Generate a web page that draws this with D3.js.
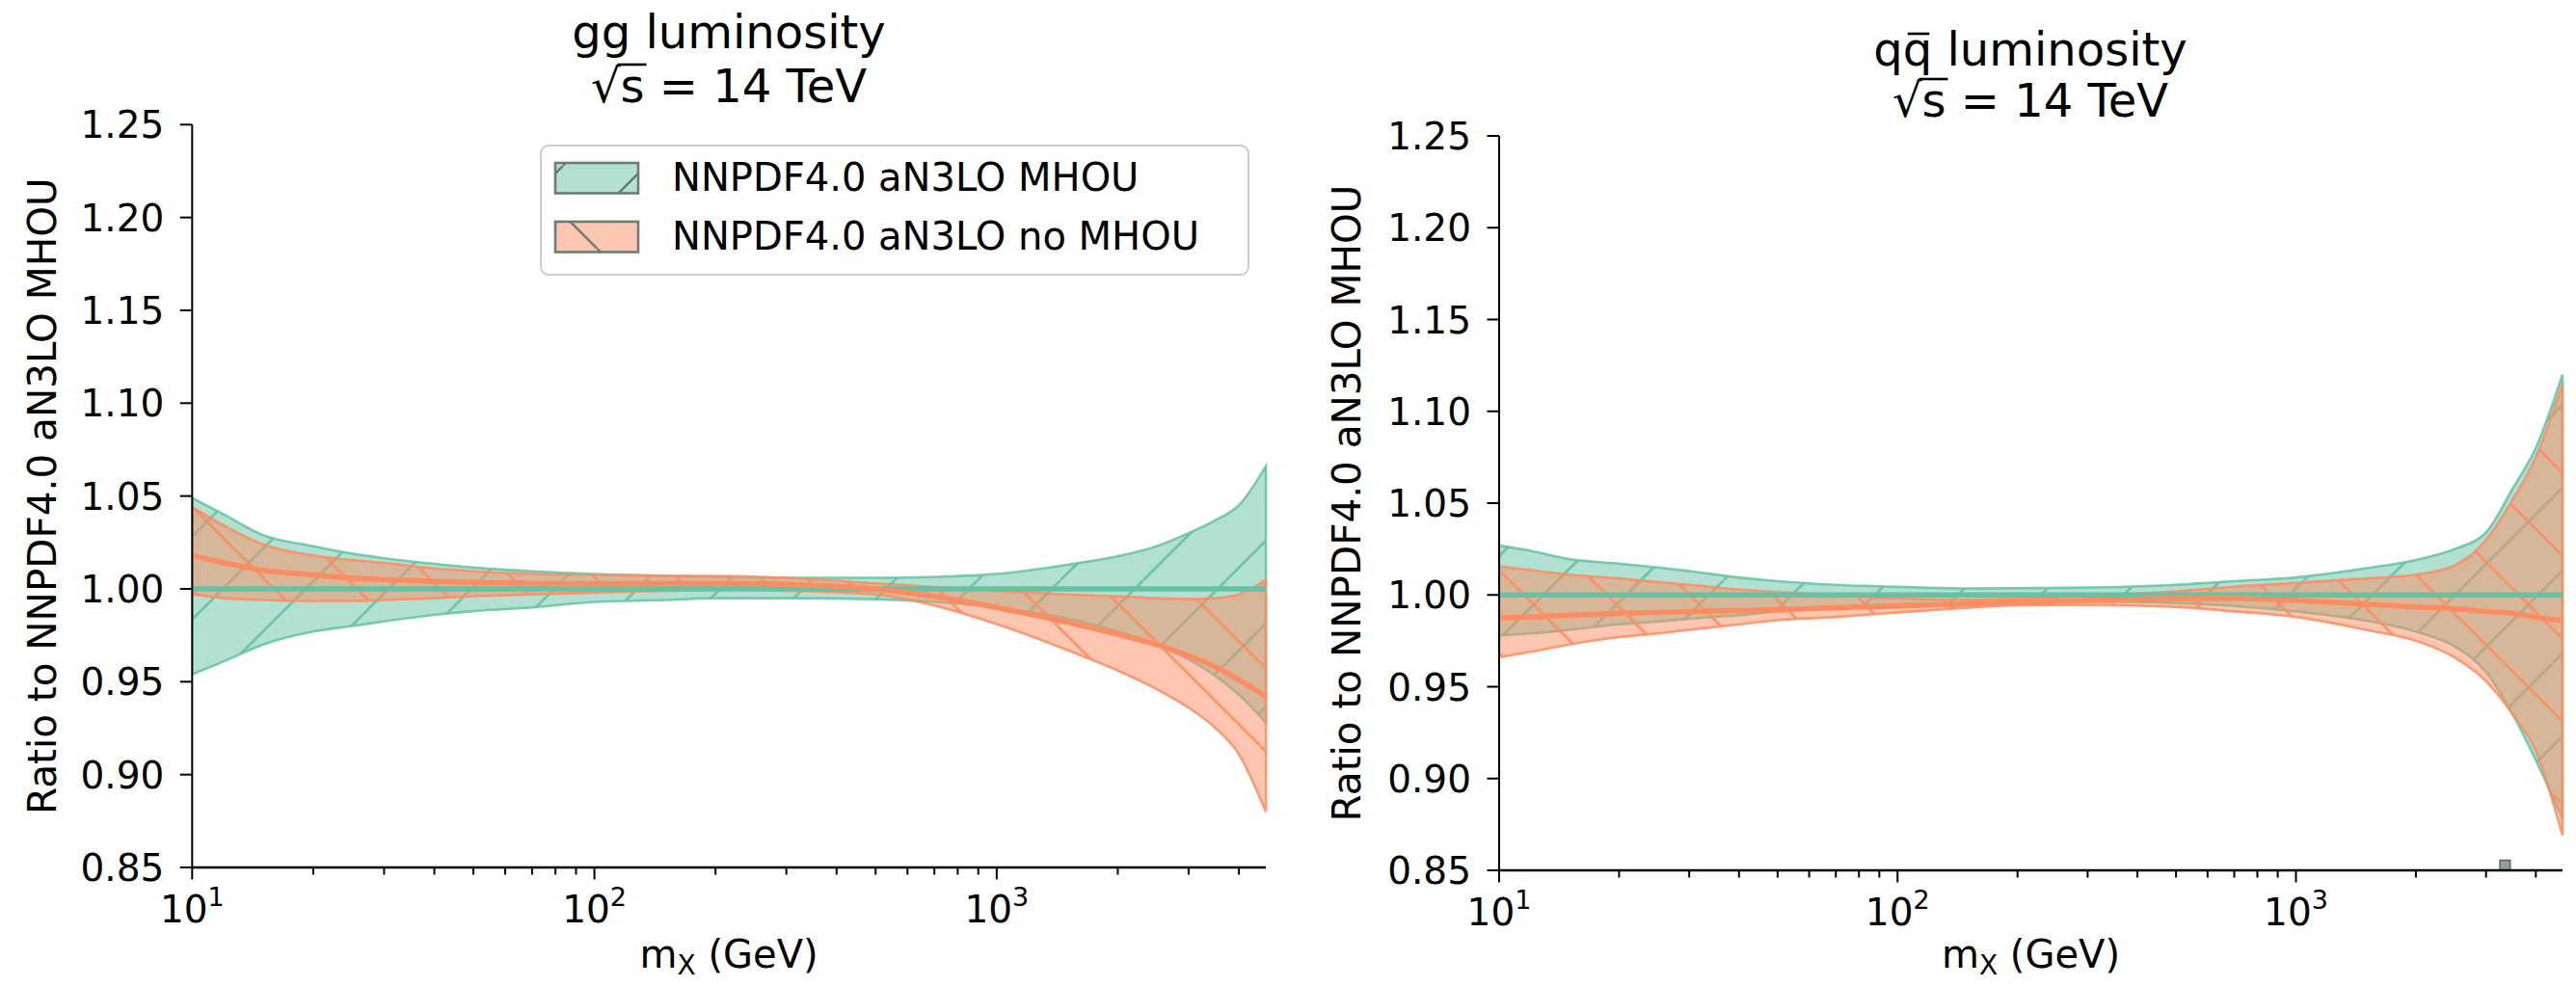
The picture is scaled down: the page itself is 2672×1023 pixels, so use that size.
<!DOCTYPE html>
<html><head><meta charset="utf-8">
<script src="https://cdn.jsdelivr.net/npm/d3@7"></script>
<style>
body{margin:0;background:#fff}
svg{display:block}
text{font-family:"DejaVu Sans",sans-serif;fill:#000}
</style>
</head><body>
<svg id="c" width="2672" height="1023"></svg>
<script>
// ---------------- data ----------------
const massGeV = [10,12,15,20,25,30,40,50,70,100,150,200,300,500,700,1000,1500,2000,2500,3000,3500,4000,4667];

// gg luminosity
const ggMhouUpper   = [1.049,1.040,1.029,1.023,1.019,1.0165,1.0135,1.0115,1.0095,1.008,1.007,1.0065,1.006,1.006,1.0065,1.008,1.013,1.0176,1.023,1.030,1.037,1.045,1.066];
const ggMhouLower   = [0.954,0.961,0.970,0.977,0.980,0.9825,0.986,0.988,0.990,0.993,0.994,0.995,0.995,0.9945,0.993,0.990,0.984,0.977,0.970,0.962,0.953,0.943,0.928];
const ggMhouCentral = [1,1,1,1,1,1,1,1,1,1,1,1,1,1,1,1,1,1,1,1,1,1,1];
const ggNoUpper     = [1.044,1.034,1.024,1.018,1.0155,1.014,1.011,1.0095,1.008,1.0075,1.007,1.007,1.006,1.003,1.001,0.999,0.997,0.996,0.995,0.9945,0.995,0.997,1.005];
const ggNoLower     = [0.997,0.995,0.994,0.9935,0.9935,0.994,0.995,0.996,0.997,0.998,0.999,0.9995,0.999,0.997,0.991,0.981,0.967,0.956,0.946,0.936,0.925,0.911,0.880];
const ggNoCentral   = [1.018,1.014,1.010,1.0075,1.0058,1.005,1.004,1.0035,1.003,1.0027,1.003,1.003,1.0025,1.000,0.996,0.990,0.982,0.9755,0.970,0.964,0.958,0.951,0.942];

// q qbar luminosity
const qqMhouUpper   = [1.027,1.024,1.0195,1.017,1.015,1.013,1.0095,1.0075,1.0055,1.0044,1.0035,1.0037,1.004,1.0055,1.0075,1.0095,1.0145,1.019,1.025,1.034,1.058,1.080,1.120];
const qqMhouLower   = [0.978,0.979,0.981,0.984,0.9855,0.987,0.989,0.991,0.993,0.995,0.996,0.9965,0.9965,0.9955,0.994,0.991,0.986,0.980,0.972,0.958,0.935,0.910,0.878];
const qqMhouCentral = [1,1,1,1,1,1,1,1,1,1,1,1,1,1,1,1,1,1,1,1,1,1,1];
const qqNoUpper     = [1.0155,1.0135,1.011,1.009,1.007,1.0055,1.003,1.0015,1.000,0.998,0.9975,0.998,0.9995,1.002,1.0045,1.0065,1.009,1.011,1.016,1.030,1.052,1.075,1.115];
const qqNoLower     = [0.966,0.969,0.973,0.977,0.979,0.981,0.984,0.9862,0.988,0.9905,0.993,0.9944,0.9945,0.9935,0.991,0.988,0.981,0.975,0.966,0.953,0.935,0.915,0.869];
const qqNoCentral   = [0.9875,0.988,0.989,0.990,0.9905,0.991,0.9915,0.992,0.993,0.994,0.995,0.996,0.997,0.998,0.998,0.997,0.995,0.9935,0.9925,0.991,0.990,0.988,0.986];

// small grey mark seen near the bottom of the right panel
const qqMarkX = [3250, 3450];
const qqMarkY = [0.85, 0.8555];

const yTickValues = [0.85,0.90,0.95,1.00,1.05,1.10,1.15,1.20,1.25];
const xMajorTicks = [10,100,1000];
const xMajorExp   = ["1","2","3"];
const xMinorTicks = [20,30,40,50,60,70,80,90,200,300,400,500,600,700,800,900,2000,3000,4000];
const xDomain = [10, 14000/3];
const yDomain = [0.85, 1.25];

const seriesLabels = ["NNPDF4.0 aN3LO MHOU","NNPDF4.0 aN3LO no MHOU"];
const panelTitles  = ["gg luminosity","qq luminosity"];
const titleLine2   = "√s = 14 TeV";
const yLabel = "Ratio to NNPDF4.0 aN3LO MHOU";

// ---------------- drawing ----------------
const GREEN = "#66c2a5", ORANGE = "#fc8d62";
const svg = d3.select("#c");
const defs = svg.append("defs");
const P = 86;
function hatch(id, dir, color, phase, sw){
  const p = defs.append("pattern").attr("id", id).attr("patternUnits","userSpaceOnUse")
    .attr("width", P).attr("height", P).attr("x", phase).attr("y", 0);
  const d = dir === "/" ?
    `M${-P},${P}L0,0M0,${P}L${P},0M${P},${P}L${2*P},0` :
    `M${-P},0L0,${P}M0,0L${P},${P}M${P},0L${2*P},${P}`;
  p.append("path").attr("d", d).attr("stroke", color).attr("stroke-width", sw).attr("fill","none");
}
hatch("hG", "/", GREEN, 68, 2.8);
hatch("hO", "\\", ORANGE, 17.5, 2.8);
hatch("hGg", "/", "#6e7a76", 68, 2.6);
hatch("hOg", "\\", "#6e7a76", 17.5, 2.6);

const panels = [
  {x0:199.3, x1:1313, y0:129.3, y1:900, title:panelTitles[0], t1:50, t2:106, tcx:756,
   bands:[[ggMhouLower, ggMhouUpper, ggMhouCentral, GREEN, "hG"], [ggNoLower, ggNoUpper, ggNoCentral, ORANGE, "hO"]]},
  {x0:1555, x1:2658, y0:141, y1:903, title:panelTitles[1], t1:68, t2:121, tcx:2106,
   bands:[[qqMhouLower, qqMhouUpper, qqMhouCentral, GREEN, "hG"], [qqNoLower, qqNoUpper, qqNoCentral, ORANGE, "hO"]], mark:true}
];

panels.forEach((pn, pi) => {
  const x = d3.scaleLog().domain(xDomain).range([pn.x0, pn.x1]);
  const y = d3.scaleLinear().domain(yDomain).range([pn.y1, pn.y0]);
  const g = svg.append("g");
  const cp = "clip"+pi;
  defs.append("clipPath").attr("id", cp).append("rect")
    .attr("x", pn.x0).attr("y", pn.y0-5).attr("width", pn.x1-pn.x0+3).attr("height", pn.y1-pn.y0+5);
  const plot = g.append("g").attr("clip-path", `url(#${cp})`);

  pn.bands.forEach(([lo, hi, cen, col, hid]) => {
    const data = massGeV.map((m,i)=>({m, lo:lo[i], hi:hi[i]}));
    const area = d3.area().x(d=>x(d.m)).y0(d=>y(d.lo)).y1(d=>y(d.hi)).curve(d3.curveMonotoneX);
    const dpath = area(data);
    plot.append("path").attr("d", dpath).attr("fill", col).attr("fill-opacity", 0.5);
    plot.append("path").attr("d", dpath).attr("fill", `url(#${hid})`).attr("opacity", 0.9);
    plot.append("path").attr("d", dpath).attr("fill", "none").attr("stroke", col)
      .attr("stroke-width", 2.6).attr("stroke-opacity", 0.85);
  });
  pn.bands.forEach(([lo, hi, cen, col]) => {
    const data = massGeV.map((m,i)=>({m, v:cen[i]}));
    const line = d3.line().x(d=>x(d.m)).y(d=>y(d.v)).curve(d3.curveMonotoneX);
    plot.append("path").attr("d", line(data)).attr("fill","none").attr("stroke", col).attr("stroke-width", 5.5);
  });

  if (pn.mark){
    g.append("rect").attr("x", x(qqMarkX[0])).attr("y", y(qqMarkY[1]))
      .attr("width", x(qqMarkX[1])-x(qqMarkX[0])).attr("height", y(qqMarkY[0])-y(qqMarkY[1]))
      .attr("fill", "#8f9c97").attr("stroke", "#5d6662").attr("stroke-width", 1.5);
  }

  // axes
  const ax = g.append("g");
  ax.append("line").attr("x1", pn.x0).attr("x2", pn.x0).attr("y1", pn.y0).attr("y2", pn.y1)
    .attr("stroke","#000").attr("stroke-width",2);
  ax.append("line").attr("x1", pn.x0).attr("x2", pn.x1).attr("y1", pn.y1).attr("y2", pn.y1)
    .attr("stroke","#000").attr("stroke-width",2.4);
  yTickValues.forEach(v => {
    const yy = y(v);
    ax.append("line").attr("x1", pn.x0-12.5).attr("x2", pn.x0).attr("y1", yy).attr("y2", yy)
      .attr("stroke","#000").attr("stroke-width",2);
    ax.append("text").attr("x", pn.x0-29).attr("y", yy+14).attr("text-anchor","end")
      .attr("font-size", 39).text(v.toFixed(2));
  });
  xMinorTicks.forEach(m => {
    const xx = x(m);
    ax.append("line").attr("x1", xx).attr("x2", xx).attr("y1", pn.y1).attr("y2", pn.y1+7.5)
      .attr("stroke","#000").attr("stroke-width",2);
  });
  xMajorTicks.forEach((m,i) => {
    const xx = x(m);
    ax.append("line").attr("x1", xx).attr("x2", xx).attr("y1", pn.y1).attr("y2", pn.y1+12.5)
      .attr("stroke","#000").attr("stroke-width",2);
    const t = ax.append("text").attr("x", xx).attr("y", pn.y1+57).attr("text-anchor","middle").attr("font-size",39);
    t.append("tspan").text("10");
    t.append("tspan").attr("font-size", 27).attr("dy", -17).text(xMajorExp[i]);
  });

  // x label
  const xl = g.append("text").attr("x", (pn.x0+pn.x1)/2).attr("y", 1004).attr("text-anchor","middle").attr("font-size",40);
  xl.append("tspan").text("m");
  xl.append("tspan").attr("font-size",28).attr("dy",7).text("X");
  xl.append("tspan").attr("dy",-7).text(" (GeV)");

  // y label
  g.append("text").attr("transform", `translate(${pi===0?58:1411},${(pn.y0+pn.y1)/2}) rotate(-90)`)
    .attr("text-anchor","middle").attr("font-size",40.5).text(yLabel);

  // title
  const t1 = g.append("text").attr("x", pn.tcx).attr("y", pn.t1).attr("text-anchor","middle").attr("font-size",48).text(pn.title);
  if (pi === 1){
    const n = t1.node();
    const s = n.getStartPositionOfChar(1), e = n.getEndPositionOfChar(1);
    g.append("line").attr("x1", s.x+5).attr("x2", e.x-3).attr("y1", pn.t1-33).attr("y2", pn.t1-33)
      .attr("stroke","#000").attr("stroke-width",2.6);
  }
  const t2 = g.append("text").attr("x", pn.tcx).attr("y", pn.t2).attr("text-anchor","middle").attr("font-size",48).text(titleLine2);
  {
    const n = t2.node();
    const s = n.getEndPositionOfChar(0), e = n.getEndPositionOfChar(1);
    g.append("line").attr("x1", s.x-3).attr("x2", e.x+2).attr("y1", pn.t2-39).attr("y2", pn.t2-39)
      .attr("stroke","#000").attr("stroke-width",2.6);
  }

  // legend (left panel only)
  if (pi === 0){
    const lg = g.append("g");
    lg.append("rect").attr("x",561).attr("y",151).attr("width",734).attr("height",134).attr("rx",8)
      .attr("fill","#fff").attr("fill-opacity",0.8).attr("stroke","#cccccc").attr("stroke-width",2);
    const cols = [GREEN, ORANGE], hs = ["hGg","hOg"], ys = [169, 230];
    seriesLabels.forEach((lab,i) => {
      lg.append("rect").attr("x",576).attr("y",ys[i]).attr("width",86).attr("height",31.5)
        .attr("fill", cols[i]).attr("fill-opacity",0.5);
      lg.append("rect").attr("x",576).attr("y",ys[i]).attr("width",86).attr("height",31.5)
        .attr("fill", `url(#${hs[i]})`);
      lg.append("rect").attr("x",576).attr("y",ys[i]).attr("width",86).attr("height",31.5)
        .attr("fill","none").attr("stroke","#6e7a76").attr("stroke-width",2.6);
      lg.append("text").attr("x",697).attr("y",ys[i]+28.5).attr("font-size",40).text(lab);
    });
  }
});
</script>
</body></html>
